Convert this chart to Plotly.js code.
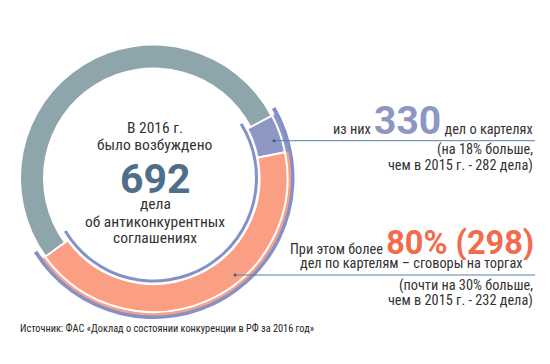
<!DOCTYPE html>
<html><head><meta charset="utf-8">
<script src="https://cdn.plot.ly/plotly-3.0.1.min.js"></script>
<style>html,body{margin:0;padding:0;background:#fff}#chart{width:550px;height:364px}</style>
</head><body><div id="chart"></div>
<script>
// ---- data ----
const categories = ['Прочие картели', 'Сговоры на торгах', 'Прочие антиконкурентные соглашения'];
const totalCases = 692;
const cartelCases = 330;
const bidRiggingCases = 298;
const cartelCases2015 = 282;
const bidRiggingCases2015 = 232;
const cartelGrowthPct = 18;
const bidRiggingGrowthPct = 30;
const bidRiggingSharePct = 80;
const reportYear = 2016;
const prevYear = 2015;
const sourceText = 'Источник: ФАС «Доклад о состоянии конкуренции в РФ за ' + reportYear + ' год»';

const sliceValues = [cartelCases - bidRiggingCases, bidRiggingCases, totalCases - cartelCases];

// ---- style / geometry ----
const W = 550, H = 364, CX = 153.5, CY = 178, ROT = 62.3;
const T = 'rgba(0,0,0,0)';
const GRAY = '#8fa5ac', PURPLE = '#8e97c4', ARC = '#8491c8', ORANGE = '#fb9f84';
const TXT = '#333333', BLUE = '#4d6f89', LINE = '#5b81a6', RED = '#f26b4c';
const FONT = '"Roboto Condensed", Roboto, sans-serif';

function ring(name, rOut, rIn, values, colors, lineW, rot) {
  return {
    type: 'pie', values: values, labels: values.map((v, i) => name + ' ' + (categories[i] || i)),
    sort: false, direction: 'clockwise', rotation: rot, hole: rIn / rOut,
    domain: {x: [(CX - rOut) / W, (CX + rOut) / W], y: [1 - (CY + rOut) / H, 1 - (CY - rOut) / H]},
    marker: {colors: colors, line: {color: '#ffffff', width: lineW}},
    textinfo: 'none', hoverinfo: 'skip', showlegend: false
  };
}
const deg = d => d * totalCases / 360;
const arcVals = (a, b) => [cartelCases + deg(a + b), totalCases - cartelCases - deg(a + b)];

const traces = [
  ring('gray', 132.5, 110.5, sliceValues, [T, T, GRAY], 0, ROT),
  ring('outer', 141, 137, arcVals(2.5, 4), [ARC, T], 0, ROT - 2.5),
  ring('strip', 137.5, 133, sliceValues, [PURPLE, ORANGE, T], 0, ROT),
  ring('seg', 134, 106, sliceValues, [PURPLE, ORANGE, T], [2, 2, 0], ROT),
  ring('inner', 104.5, 101.5, arcVals(4, 5), [ARC, T], 0, ROT - 4)
];

// ---- annotations ----
const px = x => x / W, py = y => 1 - y / H;
const anns = [];
function txt(x, base, text, size, opts) {
  opts = opts || {};
  const big = opts.big || size;
  const a = {
    xref: 'paper', yref: 'paper', x: px(x), y: py(base - 0.33 * big),
    xanchor: opts.anchor || 'center', yanchor: 'middle', showarrow: false,
    text: text, align: opts.anchor || 'center', valign: 'middle',
    font: {family: opts.family || FONT, size: size, color: opts.color || TXT, weight: opts.weight || 'normal'}
  };
  if (opts.height) a.height = opts.height;
  anns.push(a);
}
const sp = (t, size, color) => '<span style="font-family:Roboto;font-size:' + size + 'px;color:' + color + ';font-weight:bold">' + t + '</span>';

txt(155, 133, 'В ' + reportYear + ' г.', 15.5);
txt(155, 150, 'было возбуждено', 15.5);
txt(155, 193, String(totalCases), 41, {color: BLUE, weight: 'bold', family: 'Roboto', height: 34});
txt(155, 209, 'дела', 15.5);
txt(155, 227, 'об антиконкурентных', 15.5);
txt(155, 243, 'соглашениях', 15.5);

txt(535, 134, 'из них ' + sp(cartelCases, 39, PURPLE) + ' дел о картелях', 14.3, {anchor: 'right', big: 39, height: 36});
txt(535, 154, '(на ' + cartelGrowthPct + '% больше,', 14.3, {anchor: 'right'});
txt(535, 170, 'чем в ' + prevYear + ' г. - ' + cartelCases2015 + ' дела)', 14.3, {anchor: 'right'});

txt(411.5, 253, 'При этом более ' + sp(bidRiggingSharePct + '% (' + bidRiggingCases + ')', 32.5, RED), 14.3, {big: 32.5, height: 35});
txt(411.5, 268, 'дел по картелям – сговоры на торгах', 14.3);
txt(535, 290, '(почти на ' + bidRiggingGrowthPct + '% больше,', 14.3, {anchor: 'right'});
txt(535, 305, 'чем в ' + prevYear + ' г. - ' + bidRiggingCases2015 + ' дела)', 14.3, {anchor: 'right'});

txt(18, 332, sourceText, 10.3, {anchor: 'left', color: '#222'});

const shapes = [
  {type: 'line', xref: 'paper', yref: 'paper', x0: px(274), x1: px(535), y0: py(140.7), y1: py(140.7), line: {color: LINE, width: 1}},
  {type: 'line', xref: 'paper', yref: 'paper', x0: px(235), x1: px(535), y0: py(275), y1: py(275), line: {color: LINE, width: 1}},
  {type: 'circle', xref: 'paper', yref: 'paper', x0: px(272.5), x1: px(275.5), y0: py(139.2), y1: py(142.2), fillcolor: '#3d5f80', line: {width: 0}},
  {type: 'circle', xref: 'paper', yref: 'paper', x0: px(233.5), x1: px(236.5), y0: py(273.5), y1: py(276.5), fillcolor: '#3d5f80', line: {width: 0}}
];

Plotly.newPlot('chart', traces, {
  width: W, height: H, margin: {l: 0, r: 0, t: 0, b: 0},
  paper_bgcolor: '#ffffff', plot_bgcolor: '#ffffff', showlegend: false,
  annotations: anns, shapes: shapes
}, {staticPlot: true, displayModeBar: false});
</script></body></html>
